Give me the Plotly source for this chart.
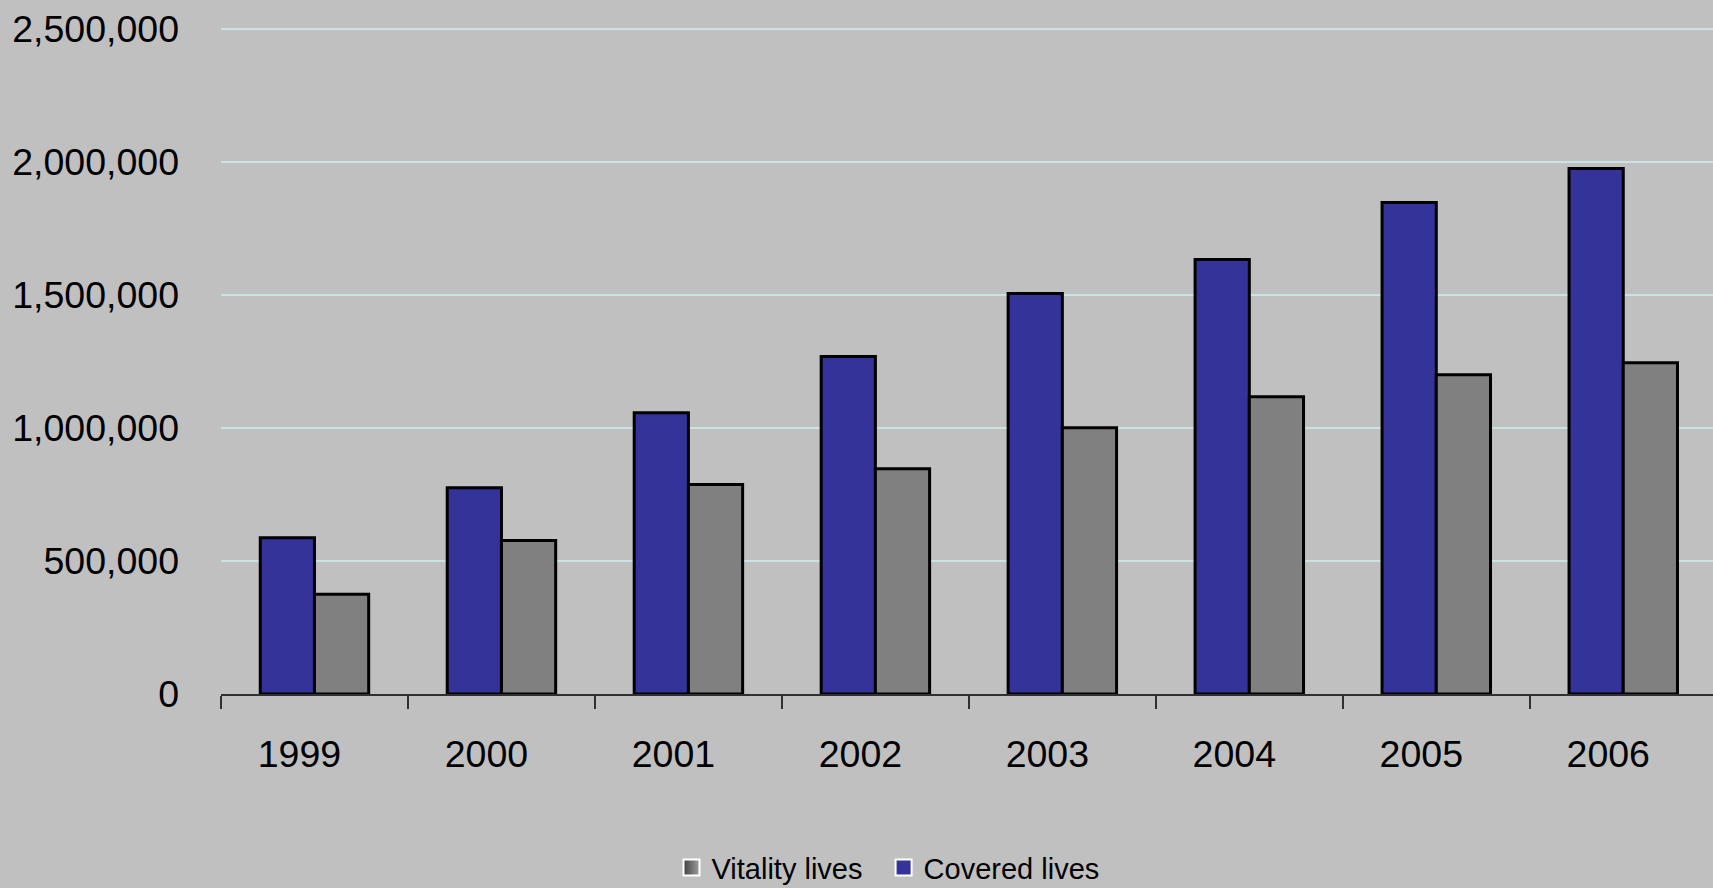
import plotly.graph_objects as go

years = ["1999", "2000", "2001", "2002", "2003", "2004", "2005", "2006"]
covered_lives = [587000, 775000, 1057000, 1268000, 1505000, 1633000, 1847000, 1975000]
vitality_lives = [375000, 577000, 787000, 846000, 1000000, 1117000, 1200000, 1245000]
y_ticks = [0, 500000, 1000000, 1500000, 2000000, 2500000]
y_tick_labels = ["0", "500,000", "1,000,000", "1,500,000", "2,000,000", "2,500,000"]

BLUE = "#333399"
GRAY = "#808080"
BG = "#C0C0C0"
FONT = "Liberation Sans, Arial, sans-serif"

fig = go.Figure()
fig.add_trace(go.Bar(x=years, y=covered_lives, name="Covered lives",
                     marker=dict(color=BLUE, line=dict(color="black", width=3)), showlegend=False))
fig.add_trace(go.Bar(x=years, y=vitality_lives, name="Vitality lives",
                     marker=dict(color=GRAY, line=dict(color="black", width=3)), showlegend=False))

# legend-only markers
fig.add_trace(go.Scatter(x=[None], y=[None], mode="markers", name="Vitality lives\u00a0\u00a0",
                         marker=dict(symbol="square", size=17, color="#404040",
                                     gradient=dict(type="horizontal", color="#a0a0a0"),
                                     line=dict(color="white", width=2))))
fig.add_trace(go.Scatter(x=[None], y=[None], mode="markers", name="Covered lives",
                         marker=dict(symbol="square", size=17, color=BLUE,
                                     line=dict(color="white", width=2))))

fig.update_layout(
    width=1713, height=888,
    paper_bgcolor=BG, plot_bgcolor=BG,
    font=dict(family=FONT, color="black"),
    barmode="group", bargap=0.42, bargroupgap=0,
    margin=dict(l=221, r=0, t=26, b=194, autoexpand=False),
    showlegend=True,
    legend=dict(orientation="h", xref="container", yref="container",
                x=0.5184, xanchor="center", y=0.0228, yanchor="middle",
                font=dict(size=29, family=FONT), bgcolor="rgba(0,0,0,0)", itemwidth=30,
                traceorder="normal"),
)
fig.update_xaxes(
    type="category", range=[-0.5, 7.48],
    showline=True, linecolor="#303030", linewidth=1.5,
    ticks="outside", tickson="boundaries", ticklen=13, tickcolor="#303030", tickwidth=1.5,
    tickfont=dict(size=37.5, family=FONT), ticklabelstandoff=26, ticklabelshift=-15,
    showgrid=False, zeroline=False, automargin=False,
)
fig.update_yaxes(
    range=[0, 2510000], tickvals=y_ticks, ticktext=y_tick_labels,
    showgrid=True, gridcolor="#c8e4e4", gridwidth=1.5,
    zeroline=False, showline=False, ticks="",
    tickfont=dict(size=37.5, family=FONT), ticklabelstandoff=41, automargin=False,
)

fig.write_html("out.html", config={"displayModeBar": False},
               post_script="document.body.style.margin='0';document.body.style.padding='0';")
